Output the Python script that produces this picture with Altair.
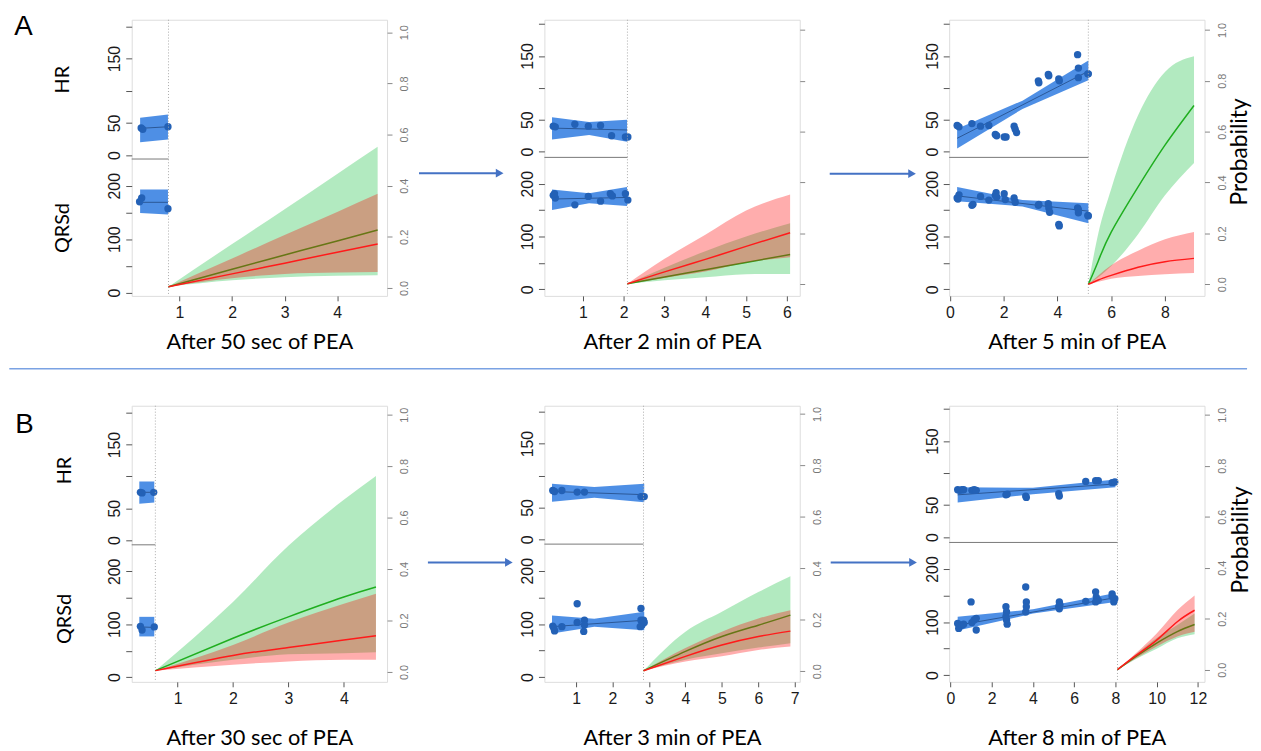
import altair as alt
import pandas as pd

# ---------------------------------------------------------------- data
TITLES = {"A1": "After 50 sec of PEA", "A2": "After 2 min of PEA", "A3": "After 5 min of PEA",
          "B1": "After 30 sec of PEA", "B2": "After 3 min of PEA", "B3": "After 8 min of PEA"}
X_TICKS = {"A1": [1, 2, 3, 4], "A2": [1, 2, 3, 4, 5, 6], "A3": [0, 2, 4, 6, 8],
           "B1": [1, 2, 3, 4], "B2": [1, 2, 3, 4, 5, 6, 7], "B3": [0, 2, 4, 6, 8, 10, 12]}
CUT = {"A1": 0.79, "A2": 2.09, "A3": 5.15, "B1": 0.60, "B2": 2.85, "B3": 8.1}
QRS_TOP = 250
HR_TICKS = [0, 50, 100, 150, 200]
QRS_TICKS = [0, 50, 100, 150, 200]
P_TICKS = [0, 0.2, 0.4, 0.6, 0.8, 1.0]

# ---- A1
A1_HR_X = [0.27, 0.30, 0.78]
A1_HR_Y = [42, 40, 44]
A1_HR_FIT_X = [0.25, 0.78]
A1_HR_FIT_Y = [41.5, 44]
A1_HR_BAND_X = [0.25, 0.78]
A1_HR_BAND_LO = [20, 24]
A1_HR_BAND_HI = [58, 63]
A1_QRS_X = [0.28, 0.24, 0.78]
A1_QRS_Y = [177, 170, 157]
A1_QRS_FIT_X = [0.25, 0.78]
A1_QRS_FIT_Y = [169, 169]
A1_QRS_BAND_X = [0.25, 0.78]
A1_QRS_BAND_LO = [149, 146]
A1_QRS_BAND_HI = [193, 193]
A1_P_X = [0.79, 2, 3, 4, 4.77]
A1_G_MID = [0.005, 0.073, 0.129, 0.184, 0.227]
A1_G_LO = [0.005, 0.030, 0.042, 0.048, 0.050]
A1_G_HI = [0.005, 0.172, 0.308, 0.446, 0.552]
A1_R_MID = [0.005, 0.055, 0.097, 0.140, 0.172]
A1_R_LO = [0.005, 0.038, 0.055, 0.060, 0.062]
A1_R_HI = [0.005, 0.115, 0.207, 0.297, 0.368]

# ---- A2
A2_HR_X = [0.27, 0.32, 0.80, 1.13, 1.43, 1.70, 2.04, 2.10]
A2_HR_Y = [40, 39, 43, 40, 41, 25, 23, 23]
A2_HR_FIT_X = [0.24, 2.08]
A2_HR_FIT_Y = [37, 34]
A2_HR_BAND_X = [0.24, 1.15, 2.08]
A2_HR_BAND_LO = [19, 26, 15.5]
A2_HR_BAND_HI = [54, 46.5, 50]
A2_QRS_X = [0.27, 0.32, 0.30, 0.80, 1.13, 1.43, 1.67, 1.72, 2.04, 2.10]
A2_QRS_Y = [178, 173, 181, 160, 176, 167, 181, 177, 181, 169]
A2_QRS_FIT_X = [0.24, 2.08]
A2_QRS_FIT_Y = [171, 174]
A2_QRS_BAND_X = [0.24, 1.15, 2.08]
A2_QRS_BAND_LO = [150, 163, 158]
A2_QRS_BAND_HI = [189, 182, 194]
A2_P_X = [2.09, 3, 4, 5, 6.08]
A2_G_MID = [0.002, 0.029, 0.057, 0.086, 0.117]
A2_G_LO = [0.002, 0.016, 0.028, 0.040, 0.041]
A2_G_HI = [0.002, 0.065, 0.130, 0.188, 0.240]
A2_R_MID = [0.002, 0.049, 0.098, 0.149, 0.203]
A2_R_LO = [0.002, 0.025, 0.050, 0.085, 0.106]
A2_R_HI = [0.002, 0.100, 0.195, 0.290, 0.353]

# ---- A3
A3_HR_X = [0.27, 0.34, 0.82, 1.14, 1.45, 1.69, 1.74, 2.02, 2.09, 2.39, 2.43, 2.48,
           3.29, 3.31, 3.66, 3.68, 4.05, 4.07, 4.75, 4.78, 4.78, 5.13, 5.15]
A3_HR_Y = [41, 39, 44, 40, 41, 27, 25, 23, 23, 40, 35, 30,
           111, 108, 121, 119, 114, 111, 152, 131, 116, 122, 122]
A3_HR_FIT_X = [0.27, 5.15]
A3_HR_FIT_Y = [21, 126]
A3_HR_BAND_X = [0.27, 2.7, 5.15]
A3_HR_BAND_LO = [5, 67, 112]
A3_HR_BAND_HI = [36, 80, 143]
A3_QRS_X = [0.27, 0.34, 0.30, 0.82, 0.86, 1.14, 1.45, 1.69, 1.72, 1.74, 2.02, 2.06, 2.39, 2.43,
            3.29, 3.31, 3.66, 3.68, 3.71, 4.05, 4.07, 4.75, 4.78, 4.78, 5.13, 5.15]
A3_QRS_Y = [173, 179, 171, 159, 161, 176, 169, 178, 183, 175, 181, 170, 173, 165,
            159, 161, 162, 154, 146, 123, 120, 154, 151, 145, 140, 139]
A3_QRS_FIT_X = [0.27, 5.15]
A3_QRS_FIT_Y = [177, 148]
A3_QRS_BAND_X = [0.27, 2.7, 5.15]
A3_QRS_BAND_LO = [167, 157, 125]
A3_QRS_BAND_HI = [194, 169, 163]
A3_P_X = [5.15, 5.52, 6, 7, 8, 9.08]
A3_G_MID = [0.0, 0.092, 0.205, 0.383, 0.547, 0.703]
A3_G_LO = [0.0, 0.028, 0.072, 0.197, 0.350, 0.477]
A3_G_HI = [0.0, 0.20, 0.375, 0.665, 0.835, 0.897]
A3_R_MID = [0.0, 0.017, 0.035, 0.067, 0.089, 0.102]
A3_R_LO = [0.0, 0.010, 0.022, 0.033, 0.040, 0.044]
A3_R_HI = [0.0, 0.035, 0.075, 0.132, 0.177, 0.206]

# ---- B1
B1_HR_X = [0.33, 0.36, 0.57]
B1_HR_Y = [75, 74, 75]
B1_HR_FIT_X = [0.31, 0.58]
B1_HR_FIT_Y = [75, 75]
B1_HR_BAND_X = [0.31, 0.58]
B1_HR_BAND_LO = [57, 59]
B1_HR_BAND_HI = [92, 92]
B1_QRS_X = [0.33, 0.36, 0.58]
B1_QRS_Y = [96, 89, 95]
B1_QRS_FIT_X = [0.31, 0.58]
B1_QRS_FIT_Y = [95, 94]
B1_QRS_BAND_X = [0.31, 0.58]
B1_QRS_BAND_LO = [77, 77]
B1_QRS_BAND_HI = [114, 114]
B1_P_X = [0.6, 2, 3, 4, 4.58]
B1_G_MID = [0.005, 0.131, 0.214, 0.291, 0.330]
B1_G_LO = [0.005, 0.047, 0.069, 0.073, 0.077]
B1_G_HI = [0.005, 0.272, 0.490, 0.669, 0.762]
B1_R_MID = [0.005, 0.064, 0.095, 0.124, 0.141]
B1_R_LO = [0.005, 0.028, 0.041, 0.047, 0.047]
B1_R_HI = [0.005, 0.105, 0.192, 0.265, 0.304]

# ---- B2
B2_HR_X = [0.36, 0.41, 0.61, 1.03, 1.23, 2.78, 2.87]
B2_HR_Y = [76.5, 75, 76.5, 74, 74, 67, 67]
B2_HR_FIT_X = [0.34, 2.87]
B2_HR_FIT_Y = [75, 70]
B2_HR_BAND_X = [0.34, 1.5, 2.87]
B2_HR_BAND_LO = [59, 65, 58]
B2_HR_BAND_HI = [87, 82, 87]
B2_QRS_X = [0.36, 0.41, 0.39, 0.61, 1.03, 1.03, 1.23, 1.23, 1.21, 2.78, 2.78, 2.81, 2.85, 2.87, 2.76]
B2_QRS_Y = [96, 87, 92, 95, 138, 103, 107, 98, 86, 129, 107, 98, 107, 103, 95]
B2_QRS_FIT_X = [0.34, 2.87]
B2_QRS_FIT_Y = [95, 107]
B2_QRS_BAND_X = [0.34, 1.5, 2.87]
B2_QRS_BAND_LO = [82, 95, 88]
B2_QRS_BAND_HI = [116, 110, 123]
B2_P_X = [2.85, 4, 5, 6, 6.88]
B2_G_MID = [0.002, 0.077, 0.135, 0.179, 0.218]
B2_G_LO = [0.002, 0.045, 0.070, 0.092, 0.109]
B2_G_HI = [0.002, 0.154, 0.231, 0.308, 0.369]
B2_R_MID = [0.002, 0.058, 0.102, 0.135, 0.156]
B2_R_LO = [0.002, 0.038, 0.058, 0.083, 0.096]
B2_R_HI = [0.002, 0.090, 0.154, 0.205, 0.237]

# ---- B3
B3_HR_X = [0.35, 0.45, 0.56, 0.64, 1.04, 1.15, 1.25, 2.69, 2.75, 3.65, 3.68, 5.28, 5.25,
           6.56, 7.04, 7.17, 7.84, 7.97]
B3_HR_Y = [74, 73, 74, 74, 73, 74, 73, 66, 67, 64, 62, 64, 68, 87, 88, 88, 85, 86]
B3_HR_FIT_X = [0.35, 8.0]
B3_HR_FIT_Y = [66, 83]
B3_HR_BAND_X = [0.35, 4.0, 8.0]
B3_HR_BAND_LO = [54, 67, 78]
B3_HR_BAND_HI = [78, 77, 90]
B3_QRS_X = [0.35, 0.40, 0.45, 0.56, 0.64, 1.0, 1.04, 1.15, 1.25, 1.25, 2.69, 2.72, 2.75, 2.69, 2.72,
            3.65, 3.68, 3.65, 3.68, 5.28, 5.25, 5.31, 5.28, 6.56, 7.04, 7.07, 7.17, 7.04,
            7.84, 7.97, 7.92, 7.84]
B3_QRS_Y = [97.5, 88, 93, 94, 96, 138, 99, 104, 107, 85, 129, 104, 96, 110, 119,
            166, 138, 119, 129, 138, 129, 133, 125, 139, 157, 147, 141, 138,
            153, 144, 138, 148]
B3_QRS_FIT_X = [0.35, 8.0]
B3_QRS_FIT_Y = [94, 146]
B3_QRS_BAND_X = [0.35, 4.0, 8.0]
B3_QRS_BAND_LO = [84, 116, 138]
B3_QRS_BAND_HI = [110, 124, 155]
B3_P_X = [8.1, 9, 10, 11, 11.84]
B3_G_MID = [0.0, 0.052, 0.104, 0.149, 0.177]
B3_G_LO = [0.0, 0.042, 0.082, 0.123, 0.139]
B3_G_HI = [0.0, 0.061, 0.124, 0.175, 0.220]
B3_R_MID = [0.0, 0.056, 0.116, 0.188, 0.233]
B3_R_LO = [0.0, 0.045, 0.091, 0.130, 0.149]
B3_R_HI = [0.0, 0.065, 0.142, 0.233, 0.291]

G = globals()

# ---------------------------------------------------------------- layout / style
W, H = 258, 279
LFONT = "Liberation Sans"
TFONT = "Lato"
BLUE_BAND = "#3f85e3"
BLUE_PT = "#2361b6"
BLUE_LINE = "#2a5796"
GREEN = "#00b92d"
RED = "#ff0000"
ARROW = "#4472c4"

GEOM = {
    "A1": dict(x=[0.090, 4.949], hr=[-218.9, 210.3], qrs=[-6.1, 510.6], p=[-0.031, 1.049], ty=46),
    "A2": dict(x=[0.053, 6.316], hr=[-225.9, 206.7], qrs=[-12.6, 510.9], p=[-0.0455, 1.040], ty=46),
    "A3": dict(x=[-0.026, 9.470], hr=[-225.9, 206.7], qrs=[-12.6, 510.9], p=[-0.0455, 1.040], ty=46),
    "B1": dict(x=[0.173, 4.780], hr=[-223.0, 211.1], qrs=[-8.8, 512.7], p=[-0.0385, 1.0346], ty=56),
    "B2": dict(x=[0.131, 7.136], hr=[-223.4, 209.4], qrs=[-8.7, 509.9], p=[-0.0412, 1.032], ty=56),
    "B3": dict(x=[-0.062, 12.32], hr=[-226.2, 205.2], qrs=[-12.6, 507.5], p=[-0.0477, 1.035], ty=56),
}
LEFT_TITLES = {"A1": dict(tx=-69.7, hr=60, qrs=210), "B1": dict(tx=-67.7, hr=65, qrs=215)}
RIGHT_TITLES = {"A3": dict(tx=35.3, ty=133), "B3": dict(tx=36.3, ty=135)}
RIGHT_LABELS = {"A1": True, "A2": False, "A3": True, "B1": True, "B2": True, "B3": True}
ARROWS = {"A2": (-126.7, -45.2, 155), "A3": (-120.7, -37.5, 155.5),
          "B2": (-117.7, -35.9, 158.3), "B3": (-119.7, -36.5, 158.3)}


def df(**cols):
    return pd.DataFrame(cols)


def left_axis(key, which, ticks, hide):
    kw = dict(orient="left", values=ticks,
              labelExpr="indexof(" + str(hide) + ", datum.value) >= 0 ? '' : datum.label",
              labelAngle=270, labelAlign="center", labelBaseline="bottom",
              labelFont=LFONT, labelFontSize=16, labelColor="#1a1a1a", labelPadding=3,
              labelFlush=False, labelOverlap=False, tickColor="#555", tickSize=6,
              domain=False, grid=False)
    if key in LEFT_TITLES:
        t = LEFT_TITLES[key]
        return alt.Axis(title="HR" if which == "hr" else "QRSd", titleX=t["tx"], titleY=t[which],
                        titleAngle=270, titleAlign="center", titleBaseline="middle",
                        titleFont=TFONT, titleFontSize=20, titleFontWeight="normal",
                        titleColor="#000", **kw)
    return alt.Axis(title=None, **kw)


def panel(key):
    g = GEOM[key]
    xs = alt.Scale(domain=g["x"], nice=False, zero=False)
    x_axis = alt.Axis(values=X_TICKS[key], title=TITLES[key], titleY=g["ty"],
                      titleBaseline="middle", titleFont=TFONT, titleFontSize=22,
                      titleFontWeight="normal", titleColor="#000", format="d",
                      labelFont=LFONT, labelFontSize=16, labelColor="#1a1a1a", labelPadding=4,
                      labelFlush=False, tickColor="#555", tickSize=5, domain=False, grid=False)

    def X(f="x"):
        return alt.X(f + ":Q", scale=xs, axis=x_axis)

    layers = []
    for which, ticks, hide in (("hr", HR_TICKS, [100, 200]), ("qrs", QRS_TICKS, [50, 150])):
        P = key + ("_HR" if which == "hr" else "_QRS")
        sc = alt.Scale(domain=g[which], nice=False, zero=False)
        ax = left_axis(key, which, ticks, hide)
        band = alt.Chart(df(x=G[P + "_BAND_X"], lo=G[P + "_BAND_LO"], hi=G[P + "_BAND_HI"])).mark_area(
            color=BLUE_BAND, opacity=0.92).encode(x=X(), y=alt.Y("lo:Q", scale=sc, axis=ax), y2="hi:Q")
        fit = alt.Chart(df(x=G[P + "_FIT_X"], y=G[P + "_FIT_Y"])).mark_line(
            color=BLUE_LINE, strokeWidth=1).encode(x=X(), y=alt.Y("y:Q", scale=sc, axis=ax))
        pts = alt.Chart(df(x=G[P + "_X"], y=G[P + "_Y"])).mark_circle(
            size=55, color=BLUE_PT, opacity=1).encode(x=X(), y=alt.Y("y:Q", scale=sc, axis=ax))
        parts = [band, fit, pts]
        if which == "hr":
            parts.append(alt.Chart(df(x=[CUT[key]])).mark_rule(
                color="#aaaaaa", strokeWidth=1, strokeDash=[1, 2]).encode(x=X()))
        else:
            parts.append(alt.Chart(df(x0=[g["x"][0]], x=[CUT[key]], y=[QRS_TOP])).mark_rule(
                color="#777777", strokeWidth=1).encode(
                x=X("x0"), x2="x:Q", y=alt.Y("y:Q", scale=sc, axis=ax)))
        layers.append(alt.layer(*parts))

    # probability part
    ps = alt.Scale(domain=g["p"], nice=False, zero=False)
    pkw = dict(orient="right", values=P_TICKS, format=".1f", labels=RIGHT_LABELS[key],
               labelAngle=270, labelAlign="center", labelBaseline="top",
               labelFont=LFONT, labelFontSize=11, labelColor="#777", labelPadding=7,
               labelFlush=False, tickColor="#888", tickSize=5, domain=False, grid=False)
    if key in RIGHT_TITLES:
        t = RIGHT_TITLES[key]
        pax = alt.Axis(title="Probability", titleX=t["tx"], titleY=t["ty"], titleAngle=270,
                       titleAlign="center", titleBaseline="middle", titleFont=TFONT,
                       titleFontSize=23, titleFontWeight="normal", titleColor="#000", **pkw)
    else:
        pax = alt.Axis(title=None, **pkw)
    px = G[key + "_P_X"]
    gdf = df(x=px, lo=G[key + "_G_LO"], mid=G[key + "_G_MID"], hi=G[key + "_G_HI"])
    rdf = df(x=px, lo=G[key + "_R_LO"], mid=G[key + "_R_MID"], hi=G[key + "_R_HI"])
    prob = alt.layer(
        alt.Chart(gdf).mark_area(color=GREEN, opacity=0.3, interpolate="monotone").encode(
            x=X(), y=alt.Y("lo:Q", scale=ps, axis=pax), y2="hi:Q"),
        alt.Chart(gdf).mark_line(color="#1fae1f", strokeWidth=1.5, interpolate="natural").encode(
            x=X(), y=alt.Y("mid:Q", scale=ps, axis=pax)),
        alt.Chart(rdf).mark_area(color=RED, opacity=0.32, interpolate="monotone").encode(
            x=X(), y=alt.Y("lo:Q", scale=ps, axis=pax), y2="hi:Q"),
        alt.Chart(rdf).mark_line(color="#ff1a1a", strokeWidth=1.5, interpolate="natural").encode(
            x=X(), y=alt.Y("mid:Q", scale=ps, axis=pax)),
    )
    layers.append(prob)

    # annotations (panel letters, arrows, row separator)
    if key == "A1":
        layers.append(alt.Chart(df(t=["A"])).mark_text(
            align="left", baseline="top", font=LFONT, fontSize=28, color="#000").encode(
            text="t:N", x=alt.value(-118.7), y=alt.value(-7)))
        layers.append(alt.Chart(df(t=["sep"])).mark_rule(color="#7aa2e3", strokeWidth=1.5).encode(
            x=alt.value(-123.7), x2=alt.value(1127), y=alt.value(352.7)))
    if key == "B1":
        layers.append(alt.Chart(df(t=["B"])).mark_text(
            align="left", baseline="top", font=LFONT, fontSize=28, color="#000").encode(
            text="t:N", x=alt.value(-117.7), y=alt.value(6)))
    if key in ARROWS:
        x0, x1, yv = ARROWS[key]
        layers.append(alt.Chart(df(t=["arrow"])).mark_rule(color=ARROW, strokeWidth=2).encode(
            x=alt.value(x0), x2=alt.value(x1), y=alt.value(yv)))
        layers.append(alt.Chart(df(t=["head"])).mark_point(
            shape="triangle-right", filled=True, size=80, color=ARROW, opacity=1).encode(
            x=alt.value(x1), y=alt.value(yv)))

    return alt.layer(*layers).resolve_scale(y="independent").resolve_axis(y="independent").properties(
        width=W, height=H)


def spacer(w):
    return alt.Chart(df(v=[0])).mark_point(opacity=0).encode(
        x=alt.value(0), y=alt.value(0)).properties(
        width=w, height=H, view=alt.ViewBackground(stroke="transparent"))


cells = [spacer(3), panel("A1"), spacer(159), panel("A2"), spacer(143), panel("A3"),
         spacer(1), panel("B1"), spacer(152), panel("B2"), spacer(151), panel("B3")]

chart = alt.concat(*cells, columns=6, spacing=alt.RowColnumber(row=111, column=0),
                   bounds="flush", align="none").properties(
    padding={"left": 0, "top": 0, "right": 0, "bottom": 0}
).configure_view(stroke="#555555", strokeWidth=1).configure(background="white")

chart.save("out.html", embed_options={"renderer": "svg", "actions": False})
